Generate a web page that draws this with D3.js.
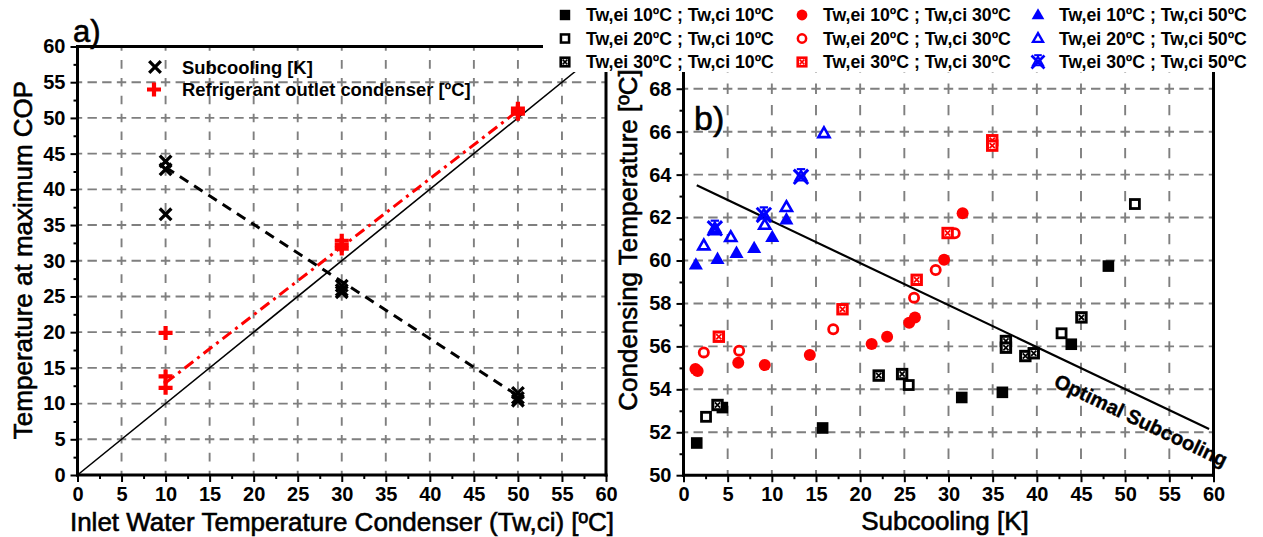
<!DOCTYPE html>
<html>
<head>
<meta charset="utf-8">
<script src="https://cdn.jsdelivr.net/npm/d3@7"></script>
<style>
  html, body { margin: 0; padding: 0; background: #fff; }
  svg { display: block; }
</style>
</head>
<body>
<svg id="chart" width="1263" height="537"></svg>
<script>
// ---------- Panel a): conditions at maximum COP vs. condenser inlet water temperature ----------
const inletWaterTemp      = [10, 10, 10, 30, 30, 30, 50, 50, 50];
const subcoolingAtMaxCOP  = [43.9, 42.8, 36.5, 26.5, 25.9, 25.6, 11.5, 10.8, 10.4];
const outletTempAtMaxCOP  = [19.9, 13.8, 12.2, 32.8, 32.2, 31.7, 51.3, 50.9, 50.6];
const subcoolingTrendX    = [10, 50];
const subcoolingTrendY    = [43.1, 11.1];
const outletTrendX        = [10, 50];
const outletTrendY        = [12.9, 51.0];
const identityX           = [0, 60];
const identityY           = [0, 60];
const ticksA              = [0, 5, 10, 15, 20, 25, 30, 35, 40, 45, 50, 55, 60];
const legendA             = ["Subcooling [K]", "Refrigerant outlet condenser [ºC]"];

// ---------- Panel b): condensing temperature vs. subcooling ----------
// Tw,ci 10 ºC
const ei10ci10X = [1.5, 4.4, 15.75, 31.5, 36.1, 43.9, 48.1];
const ei10ci10Y = [51.5, 53.15, 52.2, 53.62, 53.86, 56.1, 59.74];
const ei20ci10X = [2.55, 25.5, 42.8, 51.1];
const ei20ci10Y = [52.72, 54.2, 56.61, 62.63];
const ei30ci10X = [3.85, 22.1, 24.75, 36.5, 36.5, 38.7, 39.65, 45.05];
const ei30ci10Y = [53.27, 54.64, 54.71, 56.25, 55.94, 55.55, 55.68, 57.35];
// Tw,ci 30 ºC
const ei10ci30X = [1.35, 1.6, 6.2, 9.2, 14.3, 21.3, 23.05, 25.55, 26.2, 29.5, 31.6];
const ei10ci30Y = [54.95, 54.85, 55.24, 55.13, 55.6, 56.11, 56.45, 57.1, 57.35, 60.04, 62.2];
const ei20ci30X = [2.3, 6.3, 16.95, 26.1, 28.55, 30.7];
const ei20ci30Y = [55.72, 55.8, 56.8, 58.27, 59.56, 61.27];
const ei30ci30X = [4.0, 18.0, 26.4, 29.9, 34.95, 34.95];
const ei30ci30Y = [56.45, 57.73, 59.1, 61.28, 65.6, 65.35];
// Tw,ci 50 ºC
const ei10ci50X = [1.4, 3.85, 6.0, 8.0, 10.05, 11.65];
const ei10ci50Y = [59.8, 60.06, 60.34, 60.57, 61.08, 61.9];
const ei20ci50X = [2.3, 3.5, 5.35, 9.2, 11.65, 15.9];
const ei20ci50Y = [60.69, 61.4, 61.08, 61.65, 62.48, 65.92];
const ei30ci50X = [3.55, 9.1, 13.3];
const ei30ci50Y = [61.5, 62.12, 63.9];

const optimalLineX = [1.5, 59.5];
const optimalLineY = [63.5, 52.15];
const optimalLabel = "Optimal Subcooling";
const optimalLabelAt = [41.8, 54.15];

const ticksBx = [0, 5, 10, 15, 20, 25, 30, 35, 40, 45, 50, 55, 60];
const ticksBy = [50, 52, 54, 56, 58, 60, 62, 64, 66, 68];

const seriesB = [
  { label: "Tw,ei 10ºC ; Tw,ci 10ºC", xs: ei10ci10X, ys: ei10ci10Y, shape: "square",       color: "#000000" },
  { label: "Tw,ei 20ºC ; Tw,ci 10ºC", xs: ei20ci10X, ys: ei20ci10Y, shape: "squareOpen",   color: "#000000" },
  { label: "Tw,ei 30ºC ; Tw,ci 10ºC", xs: ei30ci10X, ys: ei30ci10Y, shape: "squareX",      color: "#000000" },
  { label: "Tw,ei 10ºC ; Tw,ci 30ºC", xs: ei10ci30X, ys: ei10ci30Y, shape: "circle",       color: "#ff0000" },
  { label: "Tw,ei 20ºC ; Tw,ci 30ºC", xs: ei20ci30X, ys: ei20ci30Y, shape: "circleOpen",   color: "#ff0000" },
  { label: "Tw,ei 30ºC ; Tw,ci 30ºC", xs: ei30ci30X, ys: ei30ci30Y, shape: "squareX",      color: "#ff0000" },
  { label: "Tw,ei 10ºC ; Tw,ci 50ºC", xs: ei10ci50X, ys: ei10ci50Y, shape: "triangle",     color: "#0000ff" },
  { label: "Tw,ei 20ºC ; Tw,ci 50ºC", xs: ei20ci50X, ys: ei20ci50Y, shape: "triangleOpen", color: "#0000ff" },
  { label: "Tw,ei 30ºC ; Tw,ci 50ºC", xs: ei30ci50X, ys: ei30ci50Y, shape: "star",         color: "#0000ff" }
];

// ---------- drawing ----------
const FONT = '"Liberation Sans", Arial, Helvetica, sans-serif';
const svg = d3.select("#chart").style("font-family", FONT);

const xA = d3.scaleLinear().domain([0, 60]).range([77.5, 606]);
const yA = d3.scaleLinear().domain([0, 60]).range([475, 46.5]);
const xB = d3.scaleLinear().domain([0, 60]).range([683.5, 1213.5]);
const yB = d3.scaleLinear().domain([50, 70]).range([475.2, 45.8]);

// slightly heavier glyphs for the plain-weight titles
function heavy(sel, w) {
  return sel.attr("stroke", "#000").attr("stroke-width", w).attr("paint-order", "stroke");
}

function drawMarker(parent, shape, color, x, y, k = 1) {
  const g = parent.append("g").attr("transform", `translate(${x},${y}) scale(${k})`);
  const tri = (h) => `M0,${-h} L${h * 0.93},${h * 0.62} L${-h * 0.93},${h * 0.62} Z`;
  switch (shape) {
    case "square":
      g.append("rect").attr("x", -5.8).attr("y", -5.8).attr("width", 11.6).attr("height", 11.6).attr("fill", color);
      break;
    case "squareOpen":
      g.append("rect").attr("x", -4.5).attr("y", -4.5).attr("width", 9).attr("height", 9)
        .attr("fill", "#fff").attr("stroke", color).attr("stroke-width", 2.8);
      break;
    case "squareX":
      g.append("rect").attr("x", -4.7).attr("y", -4.7).attr("width", 9.4).attr("height", 9.4)
        .attr("fill", "#fff").attr("stroke", color).attr("stroke-width", 3);
      g.append("path").attr("d", "M-2.6,-2.6L2.6,2.6M-2.6,2.6L2.6,-2.6")
        .attr("stroke", color).attr("stroke-width", 1.8).attr("fill", "none");
      break;
    case "circle":
      g.append("circle").attr("r", 6).attr("fill", color);
      break;
    case "circleOpen":
      g.append("circle").attr("r", 4.6).attr("fill", "none").attr("stroke", color).attr("stroke-width", 2.8);
      break;
    case "triangle":
      g.append("path").attr("d", tri(7.6)).attr("fill", color);
      break;
    case "triangleOpen":
      g.append("path").attr("d", tri(6)).attr("fill", "none").attr("stroke", color)
        .attr("stroke-width", 2.6).attr("stroke-linejoin", "miter");
      break;
    case "star":
      g.append("path").attr("d", "M-7.2,-7.2L7.2,7.2M-7.2,7.2L7.2,-7.2").attr("stroke", color).attr("stroke-width", 3);
      g.append("path").attr("d", tri(5.8)).attr("fill", "none").attr("stroke", color).attr("stroke-width", 2.4);
      g.append("path").attr("d", "M-4.2,-7.6H4.2").attr("stroke", color).attr("stroke-width", 2.2);
      break;
    case "cross":
      g.append("path").attr("d", "M-5.8,-5.8L5.8,5.8M-5.8,5.8L5.8,-5.8")
        .attr("stroke", color).attr("stroke-width", 3.3).attr("fill", "none");
      break;
    case "plus":
      g.append("path").attr("d", "M-7,0H7M0,-7V7")
        .attr("stroke", color).attr("stroke-width", 4.2).attr("fill", "none");
      break;
  }
}

// Dashed grid; dashes are phased so that one dash sits on every grid crossing.
function drawGrid(g, xs, ys, xVals, yVals, xStep, yStep) {
  const [x0, x1] = xs.range();
  const [y0, y1] = ys.range();
  const ph = (xs(xs.domain()[0] + xStep) - xs(xs.domain()[0])) / 3;
  const pv = (ys(ys.domain()[0]) - ys(ys.domain()[0] + yStep)) / 2;
  const dh = ph * 0.64, dv = pv * 0.48;
  yVals.forEach(v => g.append("line")
    .attr("x1", x0).attr("x2", x1).attr("y1", ys(v)).attr("y2", ys(v))
    .attr("stroke", "#7f7f7f").attr("stroke-width", 1.9)
    .attr("stroke-dasharray", `${dh},${ph - dh}`).attr("stroke-dashoffset", dh / 2));
  xVals.forEach(u => g.append("line")
    .attr("x1", xs(u)).attr("x2", xs(u)).attr("y1", y0).attr("y2", y1)
    .attr("stroke", "#7f7f7f").attr("stroke-width", 1.9)
    .attr("stroke-dasharray", `${dv},${pv - dv}`).attr("stroke-dashoffset", dv / 2));
}

function styleAxis(g, fontSize) {
  g.select(".domain").remove();
  g.selectAll(".tick line").attr("stroke", "#000").attr("stroke-width", 2);
  g.selectAll(".tick text").attr("fill", "#000").style("font-size", fontSize + "px")
    .style("font-weight", "bold").style("font-family", FONT);
}

function drawAxes(g, xs, ys, xTicks, yTicks, xMinor, yMinor) {
  const [x0, x1] = xs.range();
  const [y0, y1] = ys.range();
  const gx = g.append("g").attr("transform", `translate(0,${y0})`)
    .call(d3.axisBottom(xs).tickValues(xTicks).tickSize(7).tickPadding(5).tickFormat(d3.format("d")));
  styleAxis(gx, 20);
  const gxm = g.append("g").attr("transform", `translate(0,${y0})`)
    .call(d3.axisBottom(xs).tickValues(xMinor).tickSize(4).tickFormat(""));
  styleAxis(gxm, 20);
  const gy = g.append("g").attr("transform", `translate(${x0},0)`)
    .call(d3.axisLeft(ys).tickValues(yTicks).tickSize(7).tickPadding(5).tickFormat(d3.format("d")));
  styleAxis(gy, 20);
  const gym = g.append("g").attr("transform", `translate(${x0},0)`)
    .call(d3.axisLeft(ys).tickValues(yMinor).tickSize(4).tickFormat(""));
  styleAxis(gym, 20);
  // frame
  const frame = [[x0, y0, x1, y0], [x0, y0, x0, y1], [x0, y1, x1, y1], [x1, y0, x1, y1]];
  frame.forEach(([a, b, c, d]) => g.append("line")
    .attr("x1", a).attr("y1", b).attr("x2", c).attr("y2", d)
    .attr("stroke", "#000").attr("stroke-width", 3).attr("stroke-linecap", "square"));
}

// ----- panel a -----
const gA = svg.append("g");
drawGrid(gA, xA, yA, d3.range(5, 60, 5), d3.range(5, 60, 5), 5, 5);

const lineA = d3.line().x(d => xA(d[0])).y(d => yA(d[1]));
gA.append("path").attr("d", lineA(d3.zip(identityX, identityY)))
  .attr("stroke", "#000").attr("stroke-width", 1.6).attr("fill", "none");
gA.append("path").attr("d", lineA(d3.zip(outletTrendX, outletTrendY)))
  .attr("stroke", "#ff0000").attr("stroke-width", 3).attr("fill", "none")
  .attr("stroke-dasharray", "11,5,3,5");
gA.append("path").attr("d", lineA(d3.zip(subcoolingTrendX, subcoolingTrendY)))
  .attr("stroke", "#000").attr("stroke-width", 3).attr("fill", "none")
  .attr("stroke-dasharray", "10,7");

inletWaterTemp.forEach((t, i) => drawMarker(gA, "cross", "#000", xA(t), yA(subcoolingAtMaxCOP[i])));
inletWaterTemp.forEach((t, i) => drawMarker(gA, "plus", "#ff0000", xA(t), yA(outletTempAtMaxCOP[i])));

drawAxes(gA, xA, yA, ticksA, ticksA, d3.range(2.5, 60, 5), d3.range(2.5, 60, 5));

// legend of panel a
drawMarker(gA, "cross", "#000", 155, 67);
drawMarker(gA, "plus", "#ff0000", 154, 89.5);
gA.selectAll("text.lgA").data(legendA).join("text").attr("class", "lgA")
  .attr("x", 182).attr("y", (d, i) => 67 + i * 22.5).attr("dy", "0.36em")
  .style("font-size", "18.4px").style("font-weight", "bold").text(d => d);

// ----- panel b -----
const gB = svg.append("g");
drawGrid(gB, xB, yB, d3.range(5, 60, 5), d3.range(52, 70, 2), 5, 2);

const lineB = d3.line().x(d => xB(d[0])).y(d => yB(d[1]));
gB.append("path").attr("d", lineB(d3.zip(optimalLineX, optimalLineY)))
  .attr("stroke", "#000").attr("stroke-width", 2.2).attr("fill", "none");

seriesB.forEach(s => s.xs.forEach((x, i) => drawMarker(gB, s.shape, s.color, xB(x), yB(s.ys[i]))));

drawAxes(gB, xB, yB, ticksBx, ticksBy, d3.range(2.5, 60, 5), d3.range(51, 70, 2));

const ang = Math.atan2(yB(optimalLineY[1]) - yB(optimalLineY[0]), xB(optimalLineX[1]) - xB(optimalLineX[0])) * 180 / Math.PI;
gB.append("text")
  .attr("transform", `translate(${xB(optimalLabelAt[0])},${yB(optimalLabelAt[1])}) rotate(${ang})`)
  .attr("stroke", "#000").attr("stroke-width", 0.4)
  .style("font-size", "20px").style("font-weight", "bold").text(optimalLabel);

// ----- shared legend strip (sits over the top of both panels) -----
svg.append("rect").attr("x", 543).attr("y", 0).attr("width", 720).attr("height", 72).attr("fill", "#fff");
const legCols = [565, 802, 1038];
const legRows = [15, 38.5, 62];
seriesB.forEach((s, i) => {
  const cx = legCols[Math.floor(i / 3)], cy = legRows[i % 3];
  drawMarker(svg, s.shape, s.color, cx, cy, 0.9);
  svg.append("text").attr("x", cx + 21).attr("y", cy).attr("dy", "0.36em")
    .style("font-size", "17.7px").style("font-weight", "bold").text(s.label);
});

// ----- titles -----
heavy(svg.append("text").attr("x", 342).attr("y", 531).attr("text-anchor", "middle")
  .style("font-size", "26px").text("Inlet Water Temperature Condenser (Tw,ci) [ºC]"), 0.6);
heavy(svg.append("text").attr("transform", "translate(32,260) rotate(-90)").attr("text-anchor", "middle")
  .style("font-size", "26px").text("Temperature at maximum COP"), 0.6);
heavy(svg.append("text").attr("x", 945).attr("y", 530).attr("text-anchor", "middle")
  .style("font-size", "26px").text("Subcooling [K]"), 0.6);
heavy(svg.append("text").attr("transform", "translate(637,240) rotate(-90)").attr("text-anchor", "middle")
  .style("font-size", "26px").text("Condensing Temperature [ºC]"), 0.6);
heavy(svg.append("text").attr("x", 73).attr("y", 42).style("font-size", "31px").text("a)"), 0.6);
heavy(svg.append("text").attr("x", 694).attr("y", 130).style("font-size", "34px").text("b)"), 0.6);
</script>
</body>
</html>
